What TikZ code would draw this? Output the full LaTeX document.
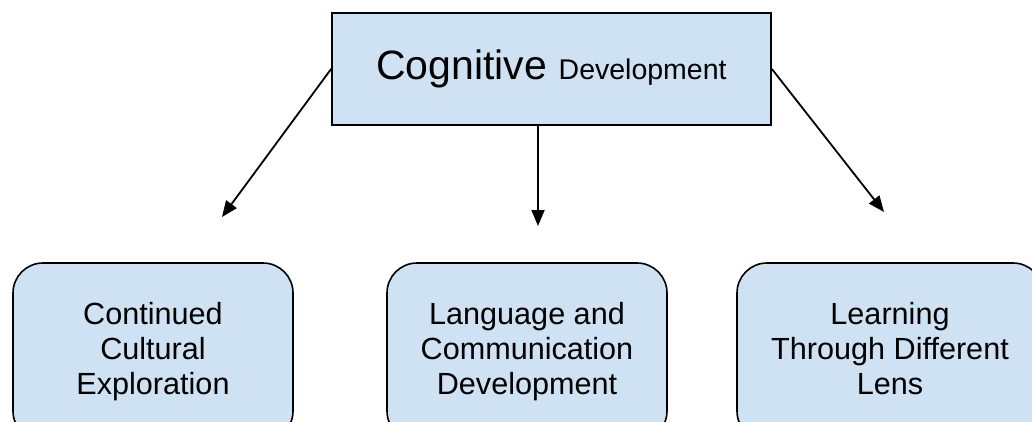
\documentclass[tikz,border=0pt]{standalone}
\usepackage{fontspec}
\setmainfont{Liberation Sans}
\usetikzlibrary{arrows.meta}
\definecolor{boxfill}{HTML}{CFE2F3}
\tikzset{
  topbox/.style={draw=black, fill=boxfill, line width=1.8pt, minimum width=439pt, minimum height=112pt, inner sep=0pt},
  leafbox/.style={draw=black, fill=boxfill, line width=1.6pt, rounded corners=30pt, minimum height=178pt, inner sep=0pt, align=center, font=\fontsize{30.6}{35}\selectfont},
  arr/.style={line width=1.8pt, -{Triangle[length=16pt,width=13pt]}}
}
\begin{document}
\begin{tikzpicture}[x=1pt,y=1pt]
\useasboundingbox (0,0) rectangle (1032,-421);
\clip (0,0) rectangle (1032,-421);
\node[topbox] (top) at (551.5,-69) {\raisebox{-2pt}{\fontsize{41}{46}\selectfont Cognitive \fontsize{28.5}{32}\selectfont Development}};
\node[leafbox, minimum width=280pt] (left) at (153,-352) {\strut Continued\\Cultural\\Exploration\strut};
\node[leafbox, minimum width=280pt] (mid) at (527,-352) {\strut Language and\\Communication\\Development\strut};
\node[leafbox, minimum width=306pt] (right) at (890,-352) {\strut Learning\\Through Different\\Lens\strut};
\coordinate (la) at (222,-217);
\coordinate (ma) at (538,-226);
\coordinate (ra) at (884,-212);
\draw[arr] (top.west) -- (la);
\draw[arr] (top.south -| ma) -- (ma);
\draw[arr] (top.east) -- (ra);
\end{tikzpicture}
\end{document}
